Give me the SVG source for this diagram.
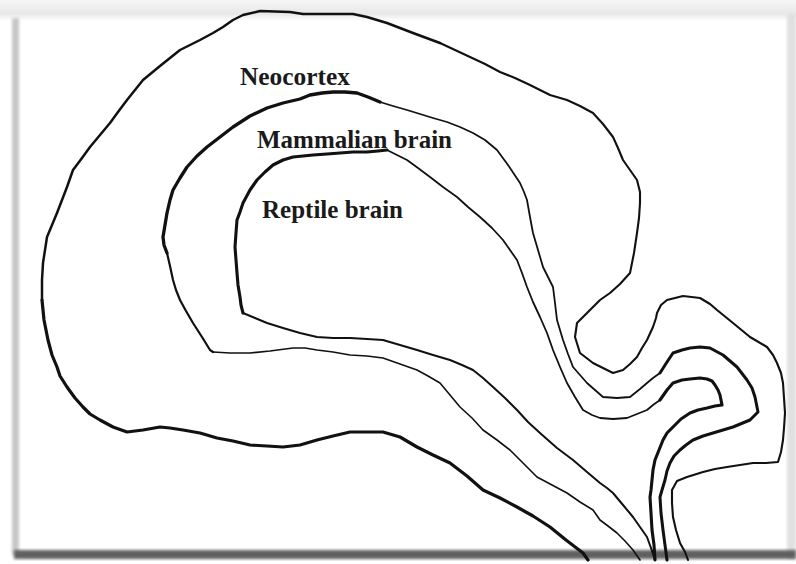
<svg xmlns="http://www.w3.org/2000/svg" width="796" height="564" viewBox="0 0 796 564">
  <style>
    .line { fill: none; stroke: #111; stroke-linecap: round; stroke-linejoin: round; }
    .label { font-family: "Liberation Serif", "Times New Roman", serif; font-weight: bold; font-size: 25px; fill: #1a1a1a; }
  </style>
  <defs>
    <filter id="soft" x="-20%" y="-20%" width="140%" height="140%">
      <feGaussianBlur stdDeviation="1.4"/>
    </filter>
    <linearGradient id="topfade" x1="0" y1="0" x2="0" y2="1">
      <stop offset="0" stop-color="#f6f6f6"/>
      <stop offset="0.65" stop-color="#e8e8e8"/>
      <stop offset="1" stop-color="#ffffff"/>
    </linearGradient>
  </defs>

  <!-- page and drop-shadow frame -->
  <rect x="0" y="0" width="796" height="564" fill="#ffffff"/>
  <rect x="0" y="0" width="796" height="21" fill="url(#topfade)"/>
  <rect x="12" y="18" width="7" height="537" fill="#c6c6c6" filter="url(#soft)"/>
  <rect x="787" y="14" width="9" height="545" fill="#e0e0e0" filter="url(#soft)"/>
  <rect x="14" y="550" width="782" height="9" fill="#606060" filter="url(#soft)"/>

  <!-- outer layer: neocortex -->
  <g id="neocortex">
    <path class="line" stroke-width="3.2" d="M588,560 L583,553 566,540 550,527 533,516 517,507 500,498 483,490 467,476 450,463 433,455 417,447 400,437 383,432 367,432 350,432 333,436 317,440 300,445 283,447 267,446 250,445 233,441 217,438 200,433 183,430 170,428 160,427 143,430 127,432 113,427 100,420 90,414 83,407 75,398 67,387 60,376 57,367 52,355 48,340 44,320 42,300"/>
    <path class="line" stroke-width="2.5" d="M42,300 L42,280 43,263 45,250 47,237 52,225 57,213 62,200 67,187 73,170 82,158 90,147 100,135 110,123 118,112 127,100 135,90 143,80 160,66 180,50 200,40 213,33 223,27 233,20 243,15 260,11 290,12 303,14 330,14 353,14 367,17 387,23 413,33 440,43"/>
    <path class="line" stroke-width="2.1" d="M440,43 L455,50 470,57 485,64 500,72 515,78 530,85 550,95 567,100 580,106 593,113 603,124 613,137 618,148 623,160 630,170 637,180 640,192 640,203 639,218 637,233 634,253 630,273 620,284 610,293 600,300 587,313 577,323 575,337 580,353 593,363 603,368 613,373 623,370 630,364 637,357 642,348 647,340 653,327 656,318 657,313 661,305 667,300 683,296 700,298 710,304 717,310 733,323 750,337 767,347 773,355 777,363 781,373 783,383 785,413 784,428 783,440 781,452 778,462 766,463 753,463 740,465 727,467 715,469 703,472 687,477 677,481 672,490 672,503 673,517 676,530 680,543 685,552 688,560"/>
    <text class="label" x="240" y="85" textLength="110" lengthAdjust="spacingAndGlyphs">Neocortex</text>
  </g>

  <!-- middle layer: mammalian brain -->
  <g id="mammalian-brain">
    <path class="line" stroke-width="1.6" d="M640,560 L633,550 625,541 617,533 608,526 600,520 593,510 580,502 567,493 552,485 537,477 523,463 510,450 497,440 483,430 472,418 460,407 450,395 440,383 428,376 417,370 400,364 383,358 367,356 350,355 333,352 317,350 305,348 293,348 270,351 250,353 230,353 213,352"/>
    <path class="line" stroke-width="2.2" d="M213,352 L210,350 202,337 193,323 186,311 180,300 176,290 173,280 170,266 167,253"/>
    <path class="line" stroke-width="3.3" d="M167,253 L164,245 163,237 165,225 167,213 170,200 173,190 180,178 187,167 197,156 207,147 220,137 233,127 250,116 267,108 283,103 300,99 310,95 322,93 333,92 345,92 357,93 368,97 380,102"/>
    <path class="line" stroke-width="1.8" d="M380,102 L393,106 407,110 420,114 433,118 447,122 460,127 473,133 485,140 497,150 508,165 520,183 524,192 527,200 530,217 533,233 538,250 543,267 548,277 553,287 555,303 557,320 560,330 563,340 568,354 573,367 580,375 587,383 595,390 603,397 617,398 630,397 640,389 647,383 653,378 660,373"/>
    <path class="line" stroke-width="3" d="M660,373 L667,362 673,353 682,350 690,348 700,347 710,348 723,355 737,367 747,380 752,388 755,397 758,412 750,420 733,427 713,433 703,436 693,440 686,445 680,450 674,456 670,463 667,471 665,480 662,490 660,497 661,513 663,530 665,545 667,560"/>
    <text class="label" x="257" y="148" textLength="195" lengthAdjust="spacingAndGlyphs">Mammalian brain</text>
  </g>

  <!-- inner layer: reptile brain -->
  <g id="reptile-brain">
    <path class="line" stroke-width="2" d="M655,560 L651,548 647,537 640,527 633,517 623,505 613,493 607,488 600,483 587,472 573,460 557,448 540,433 528,422 517,410 505,398 493,387 483,378 473,370 462,365 450,360 433,355 417,350 400,345 383,340 367,339 350,338 333,338 317,337 300,333 283,328 267,323 255,318 243,313"/>
    <path class="line" stroke-width="3.1" d="M243,313 L241,305 240,297 238,285 237,273 236,260 235,247 236,233 237,220 240,212 243,203 250,190 257,180 265,172 273,165 283,160 293,157 303,156 313,155 327,154 340,153 353,152 367,152 378,151 387,150"/>
    <path class="line" stroke-width="1.8" d="M387,150 L397,155 407,160 418,168 430,177 443,187 457,197 468,207 480,217 492,228 503,240 510,250 517,260 522,273 527,287 533,302 540,317 547,333 553,350 560,367 567,383 575,397 583,410 592,415 600,418 613,419 627,418 637,414 647,410 653,405 660,400"/>
    <path class="line" stroke-width="3.1" d="M660,400 L667,390 673,383 682,380 690,379 700,378 707,379 712,381 715,385 718,390 720,395 722,405 715,406 707,408 698,410 690,413 681,419 673,427 667,433 663,440 659,450 655,460 653,470 652,480 651,490 650,497 651,513 652,530 654,545 655,560"/>
    <text class="label" x="262" y="218" textLength="141" lengthAdjust="spacingAndGlyphs">Reptile brain</text>
  </g>
</svg>
